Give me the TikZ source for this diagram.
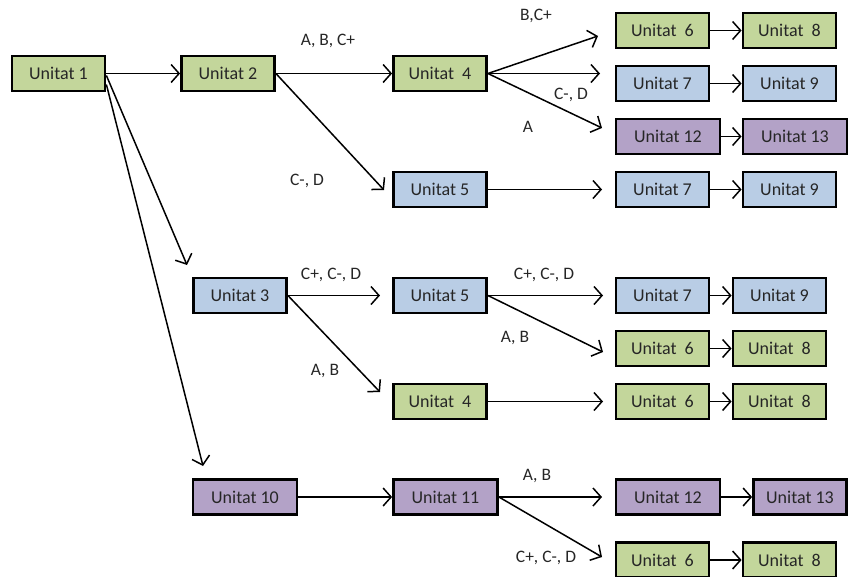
\documentclass[tikz,border=0pt]{standalone}
\usepackage{fontspec}
\setmainfont{Carlito}
\usetikzlibrary{arrows.meta,calc}
\definecolor{verd}{RGB}{195,214,155}
\definecolor{blau}{RGB}{185,205,229}
\definecolor{lila}{RGB}{179,162,199}

\begin{document}
\begin{tikzpicture}[x=1pt,y=-1pt,
		unitat/.style={draw, line width=2.8pt, minimum height=35pt, minimum width=93pt, inner sep=0pt, font=\fontsize{18}{21}\selectfont, text=black!85},
		ample/.style={minimum width=104pt},
		fletxa/.style={line width=1.5pt, -{Straight Barb[length=8pt,width=18pt,line width=1.5pt]}},
		etiq/.style={font=\fontsize{17.5}{20}\selectfont, text=black!85}]
			%%%%% START %%%%%
			
			\useasboundingbox (0,0) rectangle (849,576);
			
			% primera columna
			\node[unitat, fill=verd] (u1) at (58.5,73.5) {Unitat 1};
			\node[unitat, fill=verd] (u2) at (228,73.5) {Unitat 2};
			\node[unitat, fill=blau] (u3) at (240,295.5) {Unitat 3};
			\node[unitat, fill=lila, ample] (u10) at (245,497) {Unitat 10};
			
			% segona columna
			\node[unitat, fill=verd] (u4a) at (440,73.5) {Unitat\ \ 4};
			\node[unitat, fill=blau] (u5a) at (440,189.5) {Unitat 5};
			\node[unitat, fill=blau] (u5b) at (440,295.5) {Unitat 5};
			\node[unitat, fill=verd] (u4b) at (440,401.5) {Unitat\ \ 4};
			\node[unitat, fill=lila, ample] (u11) at (445.5,497) {Unitat 11};
			
			% tercera columna
			\node[unitat, fill=verd] (u6a) at (662.5,30.5) {Unitat\ \ 6};
			\node[unitat, fill=blau] (u7a) at (662.5,83.5) {Unitat 7};
			\node[unitat, fill=lila, ample] (u12a) at (668,136.5) {Unitat 12};
			\node[unitat, fill=blau] (u7b) at (662.5,189.5) {Unitat 7};
			\node[unitat, fill=blau] (u7c) at (662.5,295.5) {Unitat 7};
			\node[unitat, fill=verd] (u6b) at (662.5,348.5) {Unitat\ \ 6};
			\node[unitat, fill=verd] (u6c) at (662.5,401.5) {Unitat\ \ 6};
			\node[unitat, fill=lila, ample] (u12b) at (668,497) {Unitat 12};
			\node[unitat, fill=verd] (u6d) at (662.5,560) {Unitat\ \ 6};
			
			% quarta columna
			\node[unitat, fill=verd] (u8a) at (789.5,30.5) {Unitat\ \ 8};
			\node[unitat, fill=blau] (u9a) at (789.5,83.5) {Unitat 9};
			\node[unitat, fill=lila, ample] (u13a) at (795,136.5) {Unitat 13};
			\node[unitat, fill=blau] (u9b) at (789.5,189.5) {Unitat 9};
			\node[unitat, fill=blau] (u9c) at (779.5,295.5) {Unitat 9};
			\node[unitat, fill=verd] (u8b) at (779.5,348.5) {Unitat\ \ 8};
			\node[unitat, fill=verd] (u8c) at (779.5,401.5) {Unitat\ \ 8};
			\node[unitat, fill=lila] (u13b) at (800,497) {Unitat 13};
			\node[unitat, fill=verd] (u8d) at (789.5,560) {Unitat\ \ 8};
			
			% puntes de les fletxes que no toquen la caixa
			\coordinate (p3) at (187,265);
			\coordinate (p10) at (203,466);
			\coordinate (p5a) at (384,190);
			\coordinate (p6a) at (598,36);
			\coordinate (p7a) at (600,73.5);
			\coordinate (p12a) at (602,128);
			\coordinate (p7b) at (602,189.5);
			\coordinate (p5b) at (380,295.5);
			\coordinate (p4b) at (380,392);
			\coordinate (p7c) at (603,295.5);
			\coordinate (p6b) at (603,352);
			\coordinate (p6c) at (603,401.5);
			\coordinate (p12b) at (602,497);
			\coordinate (p6d) at (602,557);
			
			\draw[fletxa] (u1.east) -- (u2.west);
			\draw[fletxa] ([yshift=-2pt]u1.east) -- (p3);
			\draw[fletxa] ([yshift=-11pt]u1.east) -- (p10);
			
			\draw[fletxa] (u2.east) -- (u4a.west);
			\draw[fletxa] (u2.east) -- (p5a);
			\draw[fletxa] (u4a.east) -- (p6a);
			\draw[fletxa] (u4a.east) -- (p7a);
			\draw[fletxa] (u4a.east) -- (p12a);
			\draw[fletxa] (u5a.east) -- (p7b);
			
			\draw[fletxa] (u3.east) -- (p5b);
			\draw[fletxa] (u3.east) -- (p4b);
			\draw[fletxa] (u5b.east) -- (p7c);
			\draw[fletxa] (u5b.east) -- (p6b);
			\draw[fletxa] (u4b.east) -- (p6c);
			
			\draw[fletxa] (u10.east) -- (u11.west);
			\draw[fletxa] (u11.east) -- (p12b);
			\draw[fletxa] (u11.east) -- (p6d);
			
			% parelles de la dreta
			\draw[fletxa] (u6a.east) -- (u8a.west);
			\draw[fletxa] (u7a.east) -- (u9a.west);
			\draw[fletxa] (u12a.east) -- (u13a.west);
			\draw[fletxa] (u7b.east) -- (u9b.west);
			\draw[fletxa] (u7c.east) -- (u9c.west);
			\draw[fletxa] (u6b.east) -- (u8b.west);
			\draw[fletxa] (u6c.east) -- (u8c.west);
			\draw[fletxa] (u12b.east) -- (u13b.west);
			\draw[fletxa] (u6d.east) -- (u8d.west);
			
			% etiquetes
			\node[etiq] (e1) at (328,41) {A, B, C+};
			\node[etiq] (e2) at (307,181) {C-, D};
			\node[etiq] (e3) at (536,16) {B,C+};
			\node[etiq] (e4) at (571,95) {C-, D};
			\node[etiq] (e5) at (528,127) {A};
			\node[etiq] (e6) at (331,275) {C+, C-, D};
			\node[etiq] (e7) at (325,371) {A, B};
			\node[etiq] (e8) at (544,275) {C+, C-, D};
			\node[etiq] (e9) at (515,338) {A, B};
			\node[etiq] (e10) at (537,476) {A, B};
			\node[etiq] (e11) at (546,558) {C+, C-, D};
			
			%%%%% END %%%%%
		\end{tikzpicture}
\end{document}
